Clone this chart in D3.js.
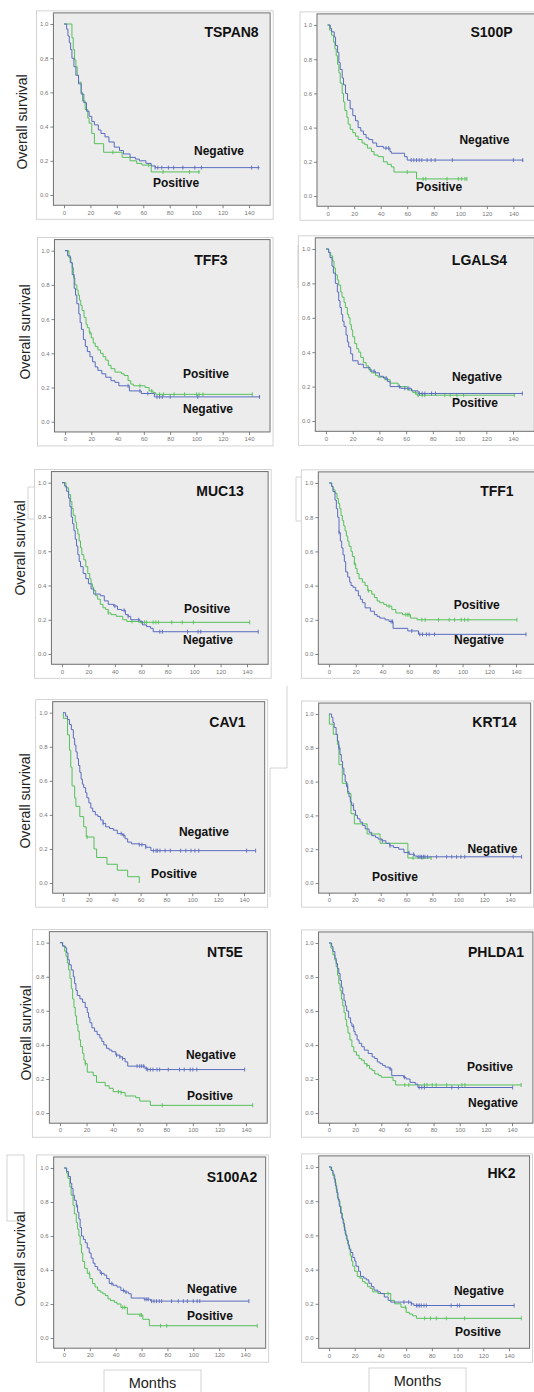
<!DOCTYPE html>
<html>
<head>
<meta charset="utf-8">
<script src="https://cdn.jsdelivr.net/npm/d3@7"></script>
<style>
  body { margin: 0; background: #fff; }
  svg { display: block; }
</style>
</head>
<body>
<div id="vis"></div>
<script>
// Kaplan-Meier curves: [month, survival after the step]
const genes = ['TSPAN8', 'S100P', 'TFF3', 'LGALS4', 'MUC13', 'TFF1', 'CAV1', 'KRT14', 'NT5E', 'PHLDA1', 'S100A2', 'HK2'];
const months = [0, 20, 40, 60, 80, 100, 120, 140];
const survTicks = [0, 0.2, 0.4, 0.6, 0.8, 1.0];

const TSPAN8_neg = [[0,1],[2,0.97],[3,0.93],[4,0.89],[5,0.85],[6,0.8],[7.5,0.75],[9,0.7],[11,0.65],[13,0.59],[15,0.54],[17,0.49],[19,0.46],[21,0.43],[23,0.41],[26,0.38],[28,0.36],[31,0.34],[34,0.31],[38,0.28],[42,0.26],[45,0.24],[50,0.22],[54,0.21],[57,0.2],[62,0.185],[66,0.17],[69,0.16]];
const TSPAN8_negCens = [69,71,74,79,83,90,99,104,142,147];
const TSPAN8_pos = [[0,1],[6,0.92],[7,0.85],[8,0.79],[9,0.75],[10,0.7],[11,0.66],[13,0.6],[14,0.55],[16,0.5],[18,0.45],[19,0.42],[21,0.36],[23,0.3],[30,0.25],[44,0.22],[50,0.2],[55,0.185],[59,0.175],[66,0.135]];
const TSPAN8_posCens = [37,64,75,95,102];

const S100P_neg = [[0,1],[2,0.98],[3,0.96],[5,0.93],[6,0.88],[7.5,0.84],[8.5,0.78],[9.5,0.74],[11,0.69],[12,0.65],[13.5,0.6],[15,0.56],[17,0.51],[19,0.47],[21,0.44],[23,0.4],[25,0.38],[27,0.36],[29,0.34],[31,0.33],[34,0.31],[37,0.29],[42,0.28],[47,0.26],[48,0.25],[58,0.23],[60,0.21]];
const S100P_negCens = [44,46,63,65,67,69,71,75,78,81,94,140,147];
const S100P_pos = [[0,1],[1.5,0.97],[3,0.94],[4.5,0.9],[5.5,0.86],[6.5,0.82],[7.5,0.77],[8.5,0.72],[9.5,0.66],[11,0.6],[12,0.55],[13,0.5],[14.5,0.46],[15.5,0.42],[17,0.39],[19,0.37],[21,0.35],[23,0.33],[26,0.31],[28,0.3],[30,0.28],[33,0.26],[35,0.24],[38,0.23],[42,0.2],[45,0.185],[48,0.17],[50,0.14],[67,0.1]];
const S100P_posCens = [60,72,74,90,98.5,101,103.5,105];

const TFF3_neg = [[0,1],[2,0.97],[4,0.93],[5.5,0.86],[7,0.78],[8,0.74],[9,0.69],[10.5,0.63],[11.5,0.58],[12.5,0.54],[14,0.48],[15.5,0.44],[17,0.41],[19,0.38],[21,0.35],[23,0.32],[25,0.3],[28,0.28],[31,0.26],[35,0.24],[38,0.23],[41,0.21],[49,0.18],[58,0.165],[68,0.145]];
const TFF3_negCens = [48,57,63,70,72,74,80,101,148];
const TFF3_pos = [[0,1],[3,0.96],[4.5,0.93],[5.5,0.9],[6.5,0.84],[7.5,0.8],[9,0.77],[10,0.74],[11,0.71],[12,0.68],[13,0.65],[14.5,0.61],[16,0.57],[17,0.55],[18.5,0.52],[20,0.49],[21.5,0.46],[23,0.44],[25,0.42],[27,0.4],[29,0.38],[31,0.36],[33,0.33],[35,0.31],[38,0.29],[43,0.28],[45,0.27],[48,0.24],[50,0.22],[52,0.21],[61,0.2],[64,0.18],[67,0.17],[69,0.16]];
const TFF3_posCens = [19,57,66,72,75,83,91,100,102,105,142.5];

const LGALS4_neg = [[0,1],[2,0.98],[3,0.95],[4.5,0.9],[5.5,0.86],[7,0.8],[8.5,0.75],[9.5,0.7],[10.5,0.66],[11.5,0.62],[12.5,0.58],[13.5,0.55],[15,0.5],[16,0.46],[17,0.43],[18.5,0.39],[20,0.35],[24,0.33],[28,0.31],[33,0.29],[37,0.28],[40,0.26],[43,0.25],[46,0.23],[48,0.2],[56,0.19],[64,0.175],[69,0.16]];
const LGALS4_negCens = [36,45,55,59,62,70,72,74,79,82,147];
const LGALS4_pos = [[0,1],[2,0.98],[3.5,0.96],[5,0.93],[6,0.89],[7,0.85],[8.5,0.82],[9.5,0.79],[11,0.75],[12,0.72],[13.5,0.69],[14.5,0.66],[16,0.62],[17,0.6],[18,0.56],[19,0.53],[20,0.49],[21.5,0.45],[23,0.42],[24.5,0.4],[26,0.37],[28,0.34],[30,0.32],[32,0.3],[34,0.28],[37,0.265],[39,0.255],[44,0.24],[48,0.22],[54,0.2],[61,0.18],[65,0.165],[68,0.15]];
const LGALS4_posCens = [67,69,72,74,89,93,98,103,141];

const MUC13_neg = [[0,1],[2,0.98],[3.5,0.95],[5,0.91],[6,0.86],[7,0.8],[8,0.76],[9,0.72],[10,0.67],[11,0.63],[12,0.58],[13,0.54],[14,0.51],[16,0.47],[18,0.44],[20,0.41],[22,0.38],[24,0.35],[29,0.34],[32,0.31],[35,0.29],[39,0.28],[42,0.26],[45,0.255],[48,0.23],[50,0.22],[52,0.2],[59,0.19],[61,0.17],[64,0.16],[67,0.15],[69,0.13]];
const MUC13_negCens = [40,47,50,58,74,76,95,103,105,148.5];
const MUC13_pos = [[0,1],[3,0.97],[5,0.93],[6.5,0.89],[7.5,0.85],[8.5,0.81],[10,0.77],[11,0.73],[12,0.7],[13,0.66],[14,0.62],[15,0.58],[16.5,0.55],[18,0.51],[19.5,0.47],[21,0.44],[22,0.41],[23,0.39],[24,0.37],[25.5,0.34],[27,0.32],[29,0.29],[31,0.27],[33,0.26],[35,0.24],[37,0.23],[41,0.22],[46,0.2],[49,0.19],[58,0.185]];
const MUC13_posCens = [35,53,60,62.5,64,69,71,73,83,91,99.5,142];

const TFF1_neg = [[0,1],[2,0.98],[3,0.95],[4.5,0.9],[5.5,0.85],[6.5,0.8],[7.5,0.71],[8.5,0.66],[9.5,0.62],[10.5,0.58],[11.5,0.54],[12.5,0.48],[14,0.45],[15.5,0.42],[16.5,0.4],[18,0.39],[20,0.37],[22,0.34],[23.5,0.32],[25,0.3],[27,0.27],[31,0.25],[34,0.23],[36,0.22],[38,0.21],[42,0.2],[45,0.19],[48,0.15],[59,0.135],[67,0.115]];
const TFF1_negCens = [7.5,46.5,47.5,62,68,70,73,75,79,147.5];
const TFF1_pos = [[0,1],[2,0.98],[3,0.96],[4.5,0.94],[6,0.91],[7,0.88],[8,0.85],[9,0.81],[10,0.78],[11,0.75],[12,0.72],[13,0.69],[14,0.66],[15,0.63],[16.5,0.6],[17.5,0.57],[19,0.53],[20,0.5],[21,0.47],[22.5,0.44],[25,0.42],[27,0.4],[29,0.37],[32,0.35],[34,0.33],[36,0.31],[38,0.3],[41,0.29],[43,0.28],[47,0.26],[50,0.24],[55,0.23],[61,0.21],[66,0.2]];
const TFF1_posCens = [19,29.5,45,57.5,59,60,69.5,72,82,90,94,99,101.5,104,140.7];

const CAV1_neg = [[0,1],[2,0.98],[3.5,0.96],[5,0.93],[6.5,0.9],[8,0.85],[9,0.81],[10,0.77],[11,0.73],[12,0.69],[13,0.65],[14,0.61],[15,0.58],[16,0.56],[17.5,0.53],[18.5,0.5],[20,0.47],[21.5,0.44],[23,0.42],[25,0.4],[27,0.39],[29,0.37],[31,0.35],[33,0.33],[36,0.32],[39,0.31],[42,0.29],[46,0.28],[48,0.26],[50,0.24],[53,0.23],[59,0.225],[64,0.21],[68,0.19]];
const CAV1_negCens = [31,45,47,59,61,64,70,72,73,75,79,83,91,95,99,102,105,142,149];
const CAV1_pos = [[0,1],[0.3,0.967],[3.5,0.87],[5,0.78],[6,0.68],[7,0.57],[9,0.5],[10,0.45],[13,0.39],[16,0.33],[18,0.27],[24,0.2],[26,0.15],[34,0.11],[42,0.075],[50,0.037],[59,0]];
const CAV1_posCens = [18.6];

const KRT14_neg = [[0,1],[2,0.98],[3,0.95],[4,0.92],[5.5,0.88],[6.5,0.84],[7.5,0.8],[8.5,0.76],[9.5,0.72],[10.5,0.68],[11.5,0.64],[12.5,0.6],[13.5,0.57],[14.5,0.54],[15.5,0.51],[16.5,0.48],[17.5,0.46],[19,0.43],[20.5,0.4],[22,0.38],[24,0.36],[26,0.34],[28,0.32],[31,0.3],[33,0.28],[36,0.27],[38,0.26],[41,0.25],[44,0.235],[47,0.22],[50,0.21],[54,0.2],[58,0.18],[62,0.17],[66,0.16],[68,0.155]];
const KRT14_negCens = [7.7,14.4,18.8,41.2,47.2,61.9,65.5,69,70.4,71.6,73,74.2,76.3,83.2,91,95,98.7,102,105,142.5,149];
const KRT14_pos = [[0,1],[0.3,0.94],[3.3,0.88],[6.5,0.82],[7.7,0.7],[10.3,0.59],[14.4,0.53],[17,0.41],[19.6,0.35],[29.5,0.29],[39.5,0.235],[61,0.148]];
const KRT14_posCens = [65,72,79];

const NT5E_neg = [[0,1],[2,0.98],[4,0.97],[5,0.94],[6,0.9],[7,0.87],[8.5,0.84],[10,0.8],[11,0.76],[12,0.72],[13,0.69],[15,0.67],[17,0.65],[19,0.62],[20.5,0.59],[21.5,0.56],[22.5,0.53],[24,0.5],[26,0.48],[28,0.46],[30,0.44],[31.5,0.42],[33,0.4],[35,0.38],[37,0.37],[39,0.36],[42,0.34],[45,0.33],[47,0.32],[49,0.3],[51,0.275],[64,0.26],[66,0.255]];
const NT5E_negCens = [42.6,45,47,58,60,61.5,63,65,66,68,70,73,75,81.5,90,93.5,98,100,103,139];
const NT5E_pos = [[0,1],[2,0.98],[3.5,0.95],[4.5,0.92],[5.5,0.88],[6.5,0.84],[7.5,0.79],[8.5,0.73],[9.5,0.67],[10.5,0.62],[11.5,0.57],[12.5,0.52],[13.5,0.48],[14.5,0.43],[15.5,0.39],[17,0.35],[18,0.31],[19,0.29],[20.5,0.24],[25,0.22],[27.5,0.18],[34,0.16],[37,0.145],[40,0.125],[46,0.12],[49,0.1],[57,0.09],[60,0.07],[68,0.045]];
const NT5E_posCens = [19,44,46,77,145];

const PHLDA1_neg = [[0,1],[2,0.98],[3,0.95],[4.5,0.91],[5.5,0.88],[6.5,0.85],[7.5,0.82],[8.5,0.78],[9.5,0.74],[10.5,0.7],[11.5,0.66],[12.5,0.63],[13.5,0.6],[15,0.56],[16.5,0.53],[17.5,0.51],[19,0.48],[20,0.46],[21.5,0.43],[23,0.41],[25,0.39],[27,0.37],[30,0.35],[33,0.33],[35,0.32],[37,0.3],[39,0.29],[41,0.28],[43,0.27],[46,0.26],[48,0.22],[57,0.21],[59,0.2],[62,0.18],[66,0.17],[68,0.15]];
const PHLDA1_negCens = [18.6,46.8,57.7,69,71,73,94,99,140.5];
const PHLDA1_pos = [[0,1],[1.5,0.97],[3,0.93],[4.5,0.9],[5.5,0.86],[6.5,0.81],[7.5,0.76],[8.5,0.72],[9.5,0.67],[10.5,0.63],[11.5,0.59],[12.5,0.55],[13.5,0.51],[14.5,0.47],[16,0.43],[17.5,0.39],[19,0.36],[21,0.34],[23,0.32],[25,0.31],[27,0.29],[29,0.28],[31,0.26],[33,0.25],[35,0.23],[38,0.22],[40,0.21],[49,0.19],[51,0.165]];
const PHLDA1_posCens = [29,58,61,73,75,79,82,90,101.7,104,147];

const S100A2_neg = [[0,1],[2,0.98],[3.5,0.95],[5,0.91],[6,0.88],[7,0.84],[8,0.81],[9.5,0.78],[10.5,0.74],[11.5,0.7],[12.5,0.65],[13.5,0.6],[15,0.58],[16.5,0.56],[18,0.53],[19.5,0.5],[21,0.47],[22.5,0.44],[24,0.42],[26,0.4],[28,0.38],[31,0.37],[33,0.35],[35,0.32],[38,0.31],[41,0.3],[44,0.28],[47,0.27],[50,0.26],[52,0.235],[62,0.228],[67,0.217]];
const S100A2_negCens = [9.8,29,37,46,48,62.6,64,65.2,67.8,69.6,71.6,73.7,75.5,83.2,88.4,92.3,95.4,100,103,105,143];
const S100A2_pos = [[0,1],[2,0.97],[3,0.94],[4.5,0.89],[5.5,0.84],[7,0.78],[8,0.73],[9.5,0.68],[10.5,0.64],[11.5,0.6],[12.5,0.55],[13.5,0.5],[14.5,0.45],[16,0.41],[18,0.38],[20,0.35],[22,0.32],[24,0.3],[26,0.28],[28,0.27],[30,0.26],[32,0.25],[34,0.23],[36,0.22],[39,0.21],[41,0.2],[44,0.18],[49,0.14],[58,0.135],[61,0.11],[66,0.072]];
const S100A2_posCens = [19.6,45.4,47,58.8,60,74.7,79.4,149.5];

const HK2_neg = [[0,1],[2,0.98],[3,0.96],[4,0.93],[5,0.89],[6,0.85],[7,0.81],[8,0.77],[9,0.73],[10,0.7],[11,0.67],[12,0.63],[13,0.6],[14,0.57],[15,0.54],[16,0.52],[17,0.5],[18.5,0.47],[20,0.45],[21,0.42],[23,0.39],[24.5,0.36],[27,0.35],[29,0.34],[31,0.32],[33,0.3],[35,0.28],[38,0.27],[40,0.26],[43,0.24],[46,0.22],[48,0.21],[64,0.2],[66,0.19]];
const HK2_negCens = [58.3,62,64,68,69.2,70.5,71.8,73.9,75.7,95,99.8,101.6,144];
const HK2_pos = [[0,1],[1.5,0.98],[3,0.95],[4.5,0.91],[5.5,0.87],[6.5,0.82],[7.5,0.8],[8.5,0.77],[9.5,0.73],[10.5,0.69],[11.5,0.65],[12.5,0.61],[13.5,0.58],[14.5,0.55],[15.5,0.52],[16.5,0.48],[17.5,0.45],[18.5,0.42],[20,0.39],[22,0.36],[24,0.35],[26,0.33],[28,0.32],[30,0.3],[32,0.29],[34,0.27],[38,0.26],[48,0.22],[51,0.2],[56,0.18],[60,0.15],[62.5,0.14],[65,0.13],[68,0.115]];
const HK2_posCens = [46,59.4,74.4,79,83.5,91.3,105.5,149.6];

// label spots in data units [month, survival]
const titleSpots = [[126.8,0.924],[123.5,0.93],[111,0.916],[114.9,0.907],[119.6,0.922],[125.7,0.924],[127.2,0.916],[128,0.923],[124.2,0.916],[127.8,0.918],[129.9,0.918],[134.1,0.936]];
const negSpots = [[117.3,0.234],[118.2,0.304],[108.8,0.053],[113,0.233],[110.5,0.058],[112.3,0.058],[109,0.278],[126.4,0.178],[113.6,0.317],[125.5,0.035],[114.5,0.265],[116.6,0.251]];
const posSpots = [[84.8,0.047],[84,0.029],[107.3,0.257],[111.5,0.081],[109.8,0.241],[110.6,0.263],[85.8,0.029],[51,0.012],[112.9,0.076],[123.2,0.247],[112.9,0.106],[115.9,0.012]];

// panel geometry: pixel position of month 0 / 140 and survival 1 / 0
const layout = [
  {x0: 64, x140: 249, y1: 24, y0: 195},
  {x0: 327.6, x140: 513.4, y1: 25, y0: 196},
  {x0: 65, x140: 249, y1: 250.7, y0: 421.7},
  {x0: 326, x140: 513, y1: 249, y0: 421},
  {x0: 62, x140: 247, y1: 482.7, y0: 654},
  {x0: 329, x140: 516, y1: 483, y0: 654},
  {x0: 63, x140: 244, y1: 712.7, y0: 883},
  {x0: 329, x140: 510, y1: 714, y0: 883},
  {x0: 60, x140: 246, y1: 942.7, y0: 1113},
  {x0: 329, x140: 512, y1: 943, y0: 1113},
  {x0: 64, x140: 245, y1: 1168, y0: 1338},
  {x0: 329, x140: 509, y1: 1167, y0: 1338},
];
const yLabelSpots = [[22,122],[25,332],[20,548],[25,801],[26,1033],[20,1259]];

const curves = {
  TSPAN8: [TSPAN8_neg, TSPAN8_negCens, 148, TSPAN8_pos, TSPAN8_posCens, 103],
  S100P: [S100P_neg, S100P_negCens, 147.5, S100P_pos, S100P_posCens, 105],
  TFF3: [TFF3_neg, TFF3_negCens, 148.5, TFF3_pos, TFF3_posCens, 142.5],
  LGALS4: [LGALS4_neg, LGALS4_negCens, 147, LGALS4_pos, LGALS4_posCens, 141],
  MUC13: [MUC13_neg, MUC13_negCens, 148.5, MUC13_pos, MUC13_posCens, 142],
  TFF1: [TFF1_neg, TFF1_negCens, 147.5, TFF1_pos, TFF1_posCens, 140.7],
  CAV1: [CAV1_neg, CAV1_negCens, 149, CAV1_pos, CAV1_posCens, 59],
  KRT14: [KRT14_neg, KRT14_negCens, 149, KRT14_pos, KRT14_posCens, 79],
  NT5E: [NT5E_neg, NT5E_negCens, 139, NT5E_pos, NT5E_posCens, 145],
  PHLDA1: [PHLDA1_neg, PHLDA1_negCens, 140.5, PHLDA1_pos, PHLDA1_posCens, 147],
  S100A2: [S100A2_neg, S100A2_negCens, 143, S100A2_pos, S100A2_posCens, 149.5],
  HK2: [HK2_neg, HK2_negCens, 144, HK2_pos, HK2_posCens, 149.6],
};

const W = 534, H = 1392;
const blue = '#5a6cbe', green = '#55c05a';

let svg = d3.select('#vis').append('svg')
  .attr('width', W).attr('height', H)
  .attr('viewBox', [0, 0, W, H].join(' '))
  .style('font-family', 'Arial, "Liberation Sans", sans-serif');

// value of the step function at time t
function survAt(steps, t) {
  let s = steps[0][1];
  steps.forEach(d => { if (d[0] <= t) s = d[1]; });
  return s;
}

genes.forEach((gene, i) => {
  const g = layout[i];
  const x = d3.scaleLinear().domain([0, 140]).range([g.x0, g.x140]);
  const y = d3.scaleLinear().domain([0, 1]).range([g.y0, g.y1]);
  const L = x(-8), R = x(156), T = y(1.065), B = y(-0.06);

  // outer white frame
  svg.append('rect')
    .attr('x', L - 17).attr('y', T - 2)
    .attr('width', R - L + 20).attr('height', B - T + 16)
    .attr('fill', '#fff').attr('stroke', '#c9c9c9').attr('stroke-width', 0.8);

  // plot area
  svg.append('rect')
    .attr('x', L).attr('y', T)
    .attr('width', R - L).attr('height', B - T)
    .attr('fill', '#ececec').attr('stroke', '#707070').attr('stroke-width', 1);

  const gx = svg.append('g')
    .attr('transform', `translate(0,${B})`)
    .call(d3.axisBottom(x).tickValues(months).tickSize(3).tickPadding(2).tickFormat(d3.format('d')));
  const gy = svg.append('g')
    .attr('transform', `translate(${L},0)`)
    .call(d3.axisLeft(y).tickValues(survTicks).tickSize(3).tickPadding(2).tickFormat(d3.format('.1f')));
  [gx, gy].forEach(a => {
    a.select('.domain').remove();
    a.selectAll('.tick line').attr('stroke', '#666').attr('stroke-width', 0.8);
    a.selectAll('.tick text').attr('fill', '#777').style('font-size', '6px');
  });

  const c = curves[gene];
  const line = d3.line().x(d => x(d[0])).y(d => y(d[1])).curve(d3.curveStepAfter);
  [[c[3], c[4], c[5], green], [c[0], c[1], c[2], blue]].forEach(([steps, cens, end, col]) => {
    const pts = steps.concat([[end, steps[steps.length - 1][1]]]);
    svg.append('path').datum(pts)
      .attr('d', line).attr('fill', 'none')
      .attr('stroke', col).attr('stroke-width', 1);
    svg.append('g').selectAll('line').data(cens).join('line')
      .attr('x1', d => x(d)).attr('x2', d => x(d))
      .attr('y1', d => y(survAt(steps, d)) - 2)
      .attr('y2', d => y(survAt(steps, d)) + 2)
      .attr('stroke', col).attr('stroke-width', 0.9);
  });

  // gene title and group labels
  svg.append('text')
    .attr('x', x(titleSpots[i][0])).attr('y', y(titleSpots[i][1]))
    .attr('text-anchor', 'middle')
    .style('font-size', '14px').style('font-weight', 'bold').attr('fill', '#111')
    .text(gene);
  [[negSpots[i], 'Negative'], [posSpots[i], 'Positive']].forEach(([p, t]) => {
    svg.append('text')
      .attr('x', x(p[0])).attr('y', y(p[1]))
      .attr('text-anchor', 'middle')
      .style('font-size', '12px').style('font-weight', 'bold').attr('fill', '#111')
      .text(t);
  });
});

// small leftover frame pieces from the composed figure
const frameBits = [
  [[7, 1155], [24, 1155], [24, 1221], [7, 1221], [7, 1155]],
  [[34, 487], [28, 487], [28, 519], [34, 519]],
  [[301, 477], [296, 477], [296, 521], [301, 521]],
  [[299, 245], [298, 245], [298, 288], [299, 288]],
  [[287, 686], [287, 768], [270, 768], [270, 897]],
];
frameBits.forEach(pts => {
  svg.append('path')
    .attr('d', d3.line()(pts))
    .attr('fill', 'none').attr('stroke', '#c9c9c9').attr('stroke-width', 0.8);
});

// y axis titles
yLabelSpots.forEach(([cx, cy]) => {
  svg.append('text')
    .attr('transform', `translate(${cx + 5},${cy}) rotate(-90)`)
    .attr('text-anchor', 'middle')
    .attr('textLength', 95).attr('lengthAdjust', 'spacingAndGlyphs')
    .style('font-size', '15px').attr('fill', '#222')
    .text('Overall survival');
});

// Months boxes
[[104, 201, 1370], [369, 466, 1368]].forEach(([a, b, top]) => {
  svg.append('rect')
    .attr('x', a).attr('y', top).attr('width', b - a).attr('height', 30)
    .attr('fill', '#fff').attr('stroke', '#c9c9c9').attr('stroke-width', 0.8);
  svg.append('text')
    .attr('x', (a + b) / 2).attr('y', top + 18)
    .attr('text-anchor', 'middle')
    .style('font-size', '14.5px').attr('fill', '#222')
    .text('Months');
});
</script>
</body>
</html>
